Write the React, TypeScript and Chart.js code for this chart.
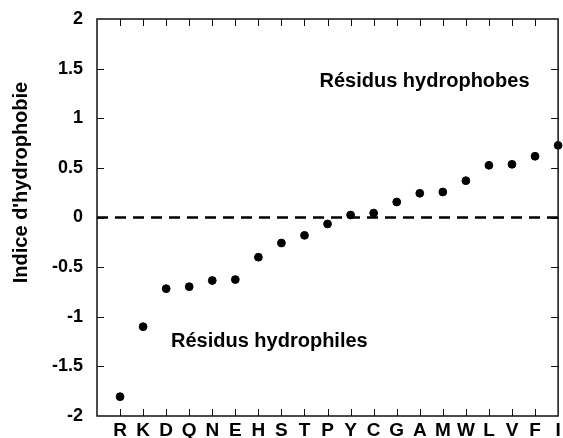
import React, { useEffect, useRef } from "react";
import { Chart, registerables } from "chart.js";

Chart.register(...registerables);

const categories = ["R", "K", "D", "Q", "N", "E", "H", "S", "T", "P", "Y", "C", "G", "A", "M", "W", "L", "V", "F", "I"];
const hydrophobicity = [-1.805, -1.1, -0.717, -0.697, -0.635, -0.625, -0.4, -0.257, -0.18, -0.065, 0.025, 0.045, 0.156, 0.244, 0.257, 0.371, 0.526, 0.536, 0.617, 0.727];
const zeroLineX = [-1, 19];
const zeroLineY = [0, 0];
const yTickValues = [-2, -1.5, -1, -0.5, 0, 0.5, 1, 1.5, 2];
const yTitle = "Indice d'hydrophobie";
const labelHydrophobes = "Résidus hydrophobes";
const labelHydrophiles = "Résidus hydrophiles";

const FONT = "'Liberation Sans', Arial, sans-serif";

const framePlugin = {
  id: "framePlugin",
  afterDraw(chart: any) {
    const { ctx, chartArea, scales } = chart;
    const { left, right, top, bottom } = chartArea;
    const xs = scales.x;
    const ys = scales.y;
    ctx.save();
    ctx.strokeStyle = "#111";
    ctx.lineWidth = 1.5;
    ctx.strokeRect(left, top, right - left, bottom - top);
    ctx.lineWidth = 1;
    ctx.beginPath();
    const tl = 7;
    for (let i = 0; i < categories.length - 1; i++) {
      const px = Math.round(xs.getPixelForValue(i)) + 0.5;
      ctx.moveTo(px, top);
      ctx.lineTo(px, top + tl);
      ctx.moveTo(px, bottom);
      ctx.lineTo(px, bottom - tl);
    }
    for (const v of yTickValues) {
      if (v === yTickValues[0] || v === yTickValues[yTickValues.length - 1]) continue;
      const py = Math.round(ys.getPixelForValue(v)) + 0.5;
      ctx.moveTo(left, py);
      ctx.lineTo(left + tl, py);
      ctx.moveTo(right, py);
      ctx.lineTo(right - tl, py);
    }
    ctx.stroke();

    ctx.fillStyle = "#000";
    ctx.font = `bold 20px ${FONT}`;
    ctx.textAlign = "left";
    ctx.textBaseline = "alphabetic";
    ctx.fillText(labelHydrophobes, 319.5, 87);
    ctx.fillText(labelHydrophiles, 171, 347);

    ctx.save();
    ctx.translate(26.5, 182.5);
    ctx.rotate(-Math.PI / 2);
    ctx.textAlign = "center";
    ctx.fillText(yTitle, 0, 0);
    ctx.restore();
    ctx.restore();
  },
};

export default function App() {
  const ref = useRef<HTMLCanvasElement>(null);
  useEffect(() => {
    document.body.style.margin = "0";
    const canvas = ref.current;
    if (!canvas) return;
    const chart = new Chart(canvas, {
      type: "scatter",
      data: {
        datasets: [
          {
            data: hydrophobicity.map((v, i) => ({ x: i, y: v })),
            backgroundColor: "#000",
            borderColor: "#000",
            pointRadius: 3.9,
            pointHoverRadius: 3.9,
            showLine: false,
            clip: false as any,
          },
          {
            type: "line",
            data: zeroLineX.map((x, i) => ({ x, y: zeroLineY[i] })),
            borderColor: "#000",
            borderWidth: 2.5,
            borderDash: [11, 7],
            pointRadius: 0,
            showLine: true,
            fill: false,
          } as any,
        ],
      },
      plugins: [framePlugin],
      options: {
        responsive: false,
        animation: false,
        devicePixelRatio: 1,
        layout: { padding: { left: 0, top: 19, right: 1, bottom: 0 } },
        plugins: { legend: { display: false }, tooltip: { enabled: false } },
        scales: {
          x: {
            type: "linear",
            min: -1,
            max: 19,
            grid: { display: false, drawTicks: false },
            border: { display: false },
            ticks: {
              stepSize: 1,
              autoSkip: false,
              maxRotation: 0,
              padding: 3,
              color: "#000",
              font: { family: FONT, size: 19, weight: "bold" },
              callback: (v: any) => categories[v] ?? "",
            },
            afterFit: (s: any) => {
              s.height = 22;
              s.paddingLeft = 0;
              s.paddingRight = 0;
            },
          },
          y: {
            type: "linear",
            min: -2,
            max: 2,
            grid: { display: false, drawTicks: false },
            border: { display: false },
            ticks: {
              stepSize: 0.5,
              padding: 14,
              color: "#000",
              font: { family: FONT, size: 18, weight: "bold" },
              callback: (v: any) => String(v),
            },
            afterFit: (s: any) => {
              s.width = 97;
              s.paddingTop = 0;
              s.paddingBottom = 0;
            },
          },
        },
      },
    } as any);
    return () => chart.destroy();
  }, []);
  return (
    <div style={{ position: "absolute", left: 0, top: 0, width: 563, height: 438 }}>
      <canvas ref={ref} width={563} height={438} />
    </div>
  );
}
